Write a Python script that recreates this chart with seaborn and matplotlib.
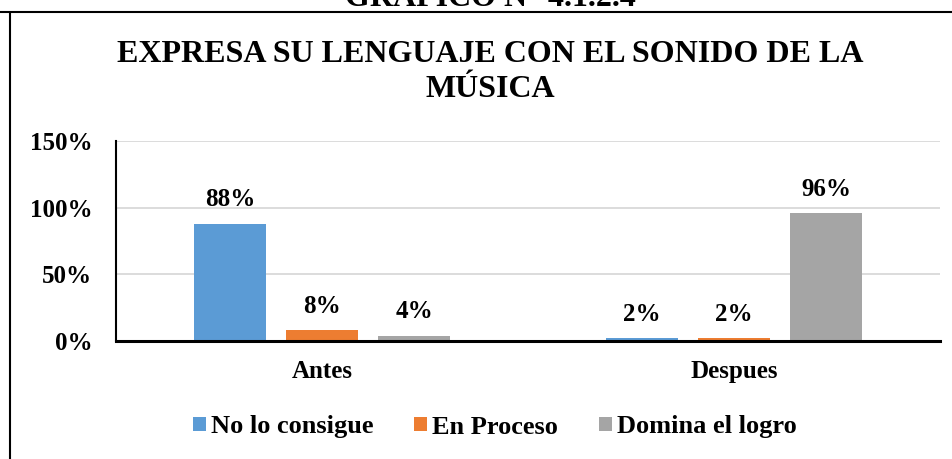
import matplotlib
matplotlib.use("Agg")
import matplotlib.pyplot as plt
from matplotlib.lines import Line2D
import pandas as pd
import seaborn as sns

# %% data
momentos = ["Antes", "Despues"]
niveles = ["No lo consigue", "En Proceso", "Domina el logro"]
no_lo_consigue = [88, 2]
en_proceso = [8, 2]
domina_el_logro = [4, 96]
colores = ["#5B9BD5", "#ED7D31", "#A5A5A5"]
y_ticks = [0, 50, 100, 150]

df = pd.DataFrame({
    "momento": momentos * 3,
    "nivel": [n for n in niveles for _ in momentos],
    "pct": no_lo_consigue + en_proceso + domina_el_logro,
})

# %% style
sns.set_theme(style="white")
plt.rcParams["font.family"] = ["Liberation Serif", "DejaVu Serif"]
plt.rcParams["font.weight"] = "bold"
plt.rcParams["text.color"] = "black"
plt.rcParams["xtick.color"] = "black"
plt.rcParams["ytick.color"] = "black"

fig = plt.figure(figsize=(9.52, 4.59), dpi=100)
ax = fig.add_axes([116 / 952, 1 - 341 / 459, (940 - 116) / 952, 200 / 459])

sns.barplot(data=df, x="momento", y="pct", hue="nivel", order=momentos,
            hue_order=niveles, palette=colores, width=0.67, gap=0.217,
            saturation=1, edgecolor="none", linewidth=0, ax=ax)

for cont in ax.containers:
    ax.bar_label(cont, fmt="{:.0f}%", padding=9, fontsize=18,
                 fontweight="bold", color="black")

ax.set_ylim(0, 150)
ax.set_xlim(-0.5, 1.5)
ax.set_yticks(y_ticks)
ax.set_yticklabels([f"{t}%" for t in y_ticks])
ax.set_xlabel("")
ax.set_ylabel("")
ax.yaxis.grid(True, color="#d9d9d9", linewidth=1.3)
ax.set_axisbelow(True)
ax.tick_params(axis="y", length=0, pad=17, labelsize=18, labelcolor="black")
ax.tick_params(axis="x", length=0, pad=14, labelsize=18, labelcolor="black")
for lab in ax.get_xticklabels() + ax.get_yticklabels():
    lab.set_fontweight("bold")
for s in ["top", "right"]:
    ax.spines[s].set_visible(False)
ax.spines["left"].set_color("black")
ax.spines["left"].set_linewidth(1.5)
ax.spines["bottom"].set_color("black")
ax.spines["bottom"].set_linewidth(2.2)

# legend below the axes
h, l = ax.get_legend_handles_labels()
leg = ax.legend(h, l, loc="center", bbox_to_anchor=(495 / 952, 1 - 427 / 459),
                bbox_transform=fig.transFigure, ncol=3, frameon=False,
                prop={"size": 19, "weight": "bold"}, handlelength=0.48,
                handleheight=0.48, handletextpad=0.2, columnspacing=1.55)
for t in leg.get_texts():
    t.set_color("black")

# titles
fig.text(490 / 952, 1 - 72 / 459,
         "EXPRESA SU LENGUAJE CON EL SONIDO DE LA\nMÚSICA",
         ha="center", va="center", fontsize=23, fontweight="bold",
         linespacing=1.3, color="black")
fig.text(490 / 952, 1 - 6 / 459, "GRÁFICO N° 4.1.2.4", ha="center",
         va="baseline", fontsize=23, fontweight="bold", color="black")

# box around the chart (only top and left edges visible in the crop)
fig.add_artist(Line2D([0, 1], [1 - 12 / 459, 1 - 12 / 459],
                      transform=fig.transFigure, color="black", lw=1.5))
fig.add_artist(Line2D([10 / 952, 10 / 952], [0, 1 - 12 / 459],
                      transform=fig.transFigure, color="black", lw=1.5))

fig.savefig("out.png", dpi=100)
